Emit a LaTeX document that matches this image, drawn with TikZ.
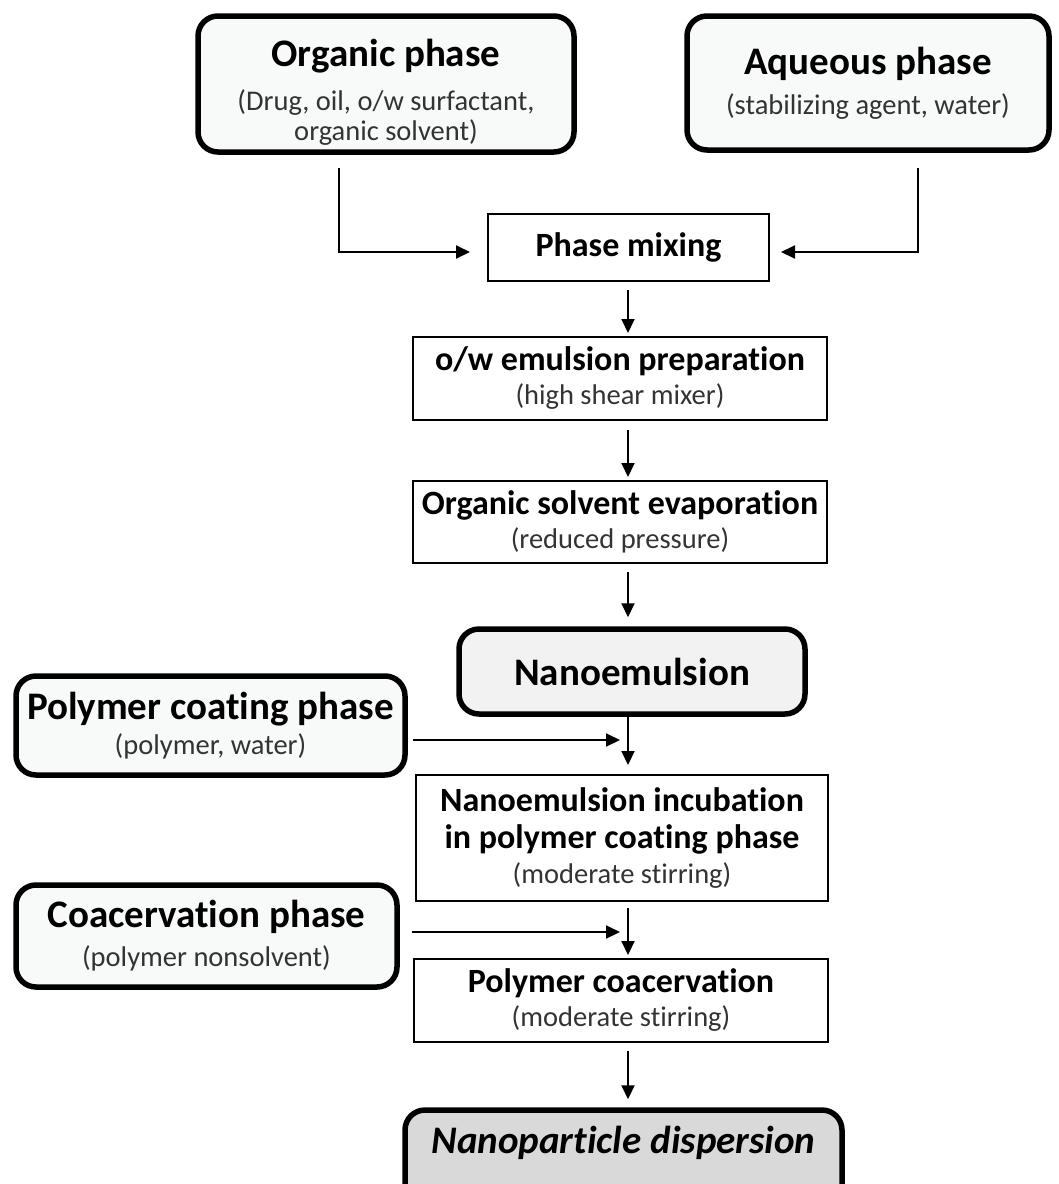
\documentclass[tikz,border=0pt]{standalone}
\usepackage{fontspec}
\setmainfont{Carlito}[Ligatures=NoCommon]
\usepackage{tikz}
\usetikzlibrary{arrows.meta, positioning}
\usepackage{xcolor}
\definecolor{phasefill}{HTML}{F8F9F9}
\definecolor{nanofill}{HTML}{F2F2F2}
\definecolor{dispfill}{HTML}{D9D9D9}
\definecolor{subgray}{HTML}{333333}
\newcommand{\bigttl}{\fontsize{39}{41}\selectfont\bfseries}
\newcommand{\stepttl}{\fontsize{34}{36}\selectfont\bfseries}
\newcommand{\subtxt}{\fontsize{28.5}{30}\selectfont\color{subgray}}
\tikzset{
  phasebox/.style={draw, line width=5.5pt, rounded corners=20pt, fill=phasefill, align=center, inner sep=2pt, font=\fontsize{28.5}{30}\selectfont},
  stepbox/.style={draw, line width=2pt, align=center, inner sep=2pt, font=\fontsize{28.5}{34}\selectfont},
  flow/.style={line width=2pt, -{Triangle[length=14pt,width=13pt]}}
}

\begin{document}
\begin{tikzpicture}[x=1pt, y=-1pt]
            \useasboundingbox (0,0) rectangle (1059,1184);
            \coordinate (axis) at (628,0);

            \node[phasebox, minimum width=376pt, minimum height=136pt] (organic) at (386,84)
                {\rule{0pt}{43pt}{\bigttl Organic phase}\\[14pt]{\subtxt (Drug, oil, o/w surfactant,}\\{\subtxt organic solvent)}};
            \node[phasebox, minimum width=362pt, minimum height=134pt] (aqueous) at (868,83)
                {{\bigttl Aqueous phase}\\[10pt]{\subtxt (stabilizing agent, water)}};
            \node[stepbox, minimum width=281pt, minimum height=67pt] (mixing) at (628.5,247.5) {\stepttl Phase mixing};
            \node[stepbox, minimum width=414pt, minimum height=83pt] (emul) at (620,378.5)
                {{\stepttl o/w emulsion preparation}\\{\subtxt (high shear mixer)}};
            \node[stepbox, minimum width=414pt, minimum height=82pt] (evap) at (620,522)
                {{\stepttl Organic solvent evaporation}\\{\subtxt (reduced pressure)}};
            \node[phasebox, fill=nanofill, minimum width=346pt, minimum height=85pt] (nano) at (632,671.5) {\bigttl Nanoemulsion};
            \node[phasebox, minimum width=389pt, minimum height=99pt] (coat) at (210.5,725.5)
                {{\bigttl Polymer coating phase}\\[5pt]{\subtxt (polymer, water)}};
            \node[stepbox, minimum width=412pt, minimum height=126pt] (incub) at (622,838)
                {{\stepttl Nanoemulsion incubation}\\[3pt]{\stepttl in polymer coating phase}\\[1pt]{\subtxt (moderate stirring)}};
            \node[phasebox, minimum width=381pt, minimum height=102pt] (coac) at (206.5,936)
                {{\bigttl Coacervation phase}\\[9pt]{\subtxt (polymer nonsolvent)}};
            \node[stepbox, minimum width=414pt, minimum height=83pt] (polyco) at (621,1000.5)
                {{\stepttl Polymer coacervation}\\{\subtxt (moderate stirring)}};
            \node[phasebox, fill=dispfill, minimum width=437pt, inner ysep=0pt, anchor=base] (disp) at (623.5,1153)
                {\rule[-60pt]{0pt}{103pt}\bigttl\itshape Nanoparticle dispersion};

            \draw[flow, shorten <=13pt, shorten >=17pt] ([xshift=-47pt]organic.south) |- ([yshift=-4.5pt]mixing.west);
            \draw[flow, shorten <=15pt, shorten >=11pt] ([xshift=50pt]aqueous.south) |- ([yshift=-4.5pt]mixing.east);
            \draw[flow, shorten <=8pt, shorten >=3pt] (mixing.south -| axis) -- (emul.north -| axis);
            \draw[flow, shorten <=9pt, shorten >=3pt] (emul.south -| axis) -- (evap.north -| axis);
            \draw[flow, shorten <=8pt, shorten >=9pt] (evap.south -| axis) -- (nano.north -| axis);
            \draw[flow, shorten >=9pt] (nano.south -| axis) -- (incub.north -| axis);
            \draw[flow, shorten <=6pt, shorten >=3pt] (incub.south -| axis) -- (polyco.north -| axis);
            \draw[flow, shorten <=8pt, shorten >=8pt] (polyco.south -| axis) -- (disp.north -| axis);
            \draw[flow, shorten <=5pt, shorten >=8pt] ([yshift=-14.5pt]coat.east) -- ([yshift=-14.5pt]coat.east -| axis);
            \draw[flow, shorten <=12pt, shorten >=8pt] ([yshift=4pt]coac.east) -- ([yshift=4pt]coac.east -| axis);
        \end{tikzpicture}
\end{document}
